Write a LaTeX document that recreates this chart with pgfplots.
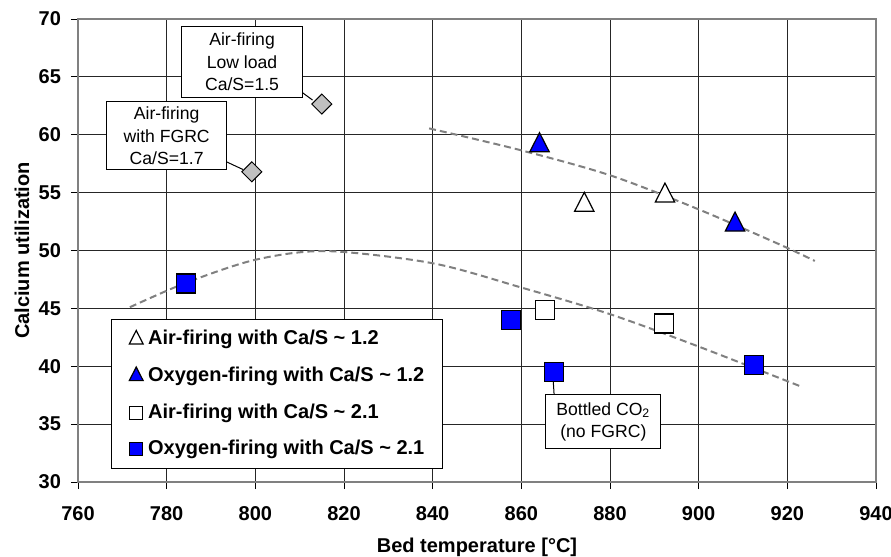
\documentclass[border=0pt]{standalone}
\usepackage{fontspec}
\setmainfont{Liberation Sans}
\usepackage{pgfplots}
\pgfplotsset{compat=1.18}
\definecolor{myblue}{RGB}{0,0,255}
\definecolor{diag}{RGB}{192,192,192}
\definecolor{fitgray}{RGB}{128,128,128}
\pgfplotsset{
  trileg/.style={legend image code/.code={\draw[##1, mark size=4pt] plot coordinates {(0pt,0pt)};}},
  sqleg/.style={legend image code/.code={\draw[##1, mark size=3.25pt] plot coordinates {(0pt,0pt)};}},
}
\begin{document}
\begin{tikzpicture}
\begin{axis}[
  name=ax,
  scale only axis,
  width=399pt, height=231.5pt,
  xmin=760, xmax=940, ymin=30, ymax=70,
  xtick={760,780,...,940}, ytick={30,35,...,70},
  grid=major,
  grid style={black!85, line width=0.5pt},
  axis line style={gray, line width=1pt},
  tick align=outside, major tick length=3.5pt,
  tick style={black, line width=0.5pt},
  xtick pos=bottom, ytick pos=left,
  /pgf/number format/assume math mode=true,
  /pgf/number format/1000 sep={},
  tick label style={font=\fontsize{10}{12}\bfseries\selectfont},
  xticklabel style={yshift=-5.1pt},
  yticklabel style={xshift=-1.5pt},
  xlabel={Bed temperature [°C]}, ylabel={Calcium utilization},
  label style={font=\fontsize{10}{12}\bfseries\selectfont},
  xlabel style={at={(axis description cs:0.5,-0.1404)}, anchor=center},
  ylabel style={at={(axis description cs:-0.0702,0.5)}, anchor=center},
  legend style={at={(axis description cs:0.0411,0.351)}, anchor=north west,
    draw=black, line width=0.5pt, fill=white,
    font=\fontsize{10}{12}\bfseries\selectfont,
    inner xsep=9pt, inner ysep=5pt,
    nodes={inner sep=0pt, text height=7.5pt, text depth=2pt},
    column sep=2.5pt, row sep=8.8pt},
  legend cell align=left,
]
% fitted trend curves
\addplot[fitgray, line width=1pt, dash pattern=on 3.5pt off 2pt, smooth, forget plot, no markers] coordinates {
(771.7,45.1) (784.3,47.2) (800,49.2) (816,49.95) (840,48.9) (860,46.8) (880,44.5) (900,41.7) (923.4,38.2)};
\addplot[fitgray, line width=1pt, dash pattern=on 3.5pt off 2pt, smooth, forget plot, no markers] coordinates {
(839.2,60.55) (859.5,58.7) (880,56.5) (899.7,53.6) (918.1,50.55) (926.2,49.1)};
% annotations
\draw[black, line width=0.5pt] (axis cs:810.4,63.7) -- (axis cs:812.9,63.0);
\draw[black, line width=0.5pt] (axis cs:793.5,57.66) -- (axis cs:797.2,57.0);
\draw[black, line width=0.5pt] (axis cs:867.4,37.5) -- (axis cs:867.2,38.7);
\node[draw=black, fill=white, align=center, font=\fontsize{8.8}{11.2}\selectfont, minimum width=60.8pt, minimum height=35.8pt, inner sep=1pt, line width=0.5pt] at (axis cs:797,66.3) {Air-firing\\Low load\\Ca/S=1.5};
\node[draw=black, fill=white, align=center, font=\fontsize{8.8}{11.2}\selectfont, minimum width=60pt, minimum height=34pt, inner sep=1pt, line width=0.5pt] at (axis cs:780,59.9) {Air-firing\\with FGRC\\Ca/S=1.7};
\node[draw=black, fill=white, align=center, font=\fontsize{8.8}{11.2}\selectfont, minimum width=57.5pt, minimum height=27pt, inner sep=1pt, line width=0.5pt] at (axis cs:878.5,35.2) {Bottled CO\textsubscript{2}\\(no FGRC)};
% diamonds
\addplot[only marks, forget plot, mark=square*, mark size=3.54pt, mark options={rotate=45, fill=diag, draw=black, line width=0.5pt}] coordinates {(815.0,62.65) (799.2,56.8)};
% series
\addplot[only marks, mark=triangle*, mark size=5.6pt, mark options={yscale=1.13, fill=white, draw=black, line width=0.6pt}, trileg]
  coordinates {(874.2,53.93) (892.4,54.73)};
\addlegendentry{Air-firing with Ca/S \textasciitilde{} 1.2}
\addplot[only marks, mark=triangle*, mark size=5.6pt, mark options={yscale=1.13, fill=myblue, draw=black, line width=0.6pt}, trileg]
  coordinates {(864.1,59.08) (908.2,52.23)};
\addlegendentry{Oxygen-firing with Ca/S \textasciitilde{} 1.2}
\addplot[only marks, mark=square*, mark size=4.75pt, mark options={fill=white, draw=black, line width=0.6pt}, sqleg]
  coordinates {(865.4,44.85) (892.1,43.7)};
\addlegendentry{Air-firing with Ca/S \textasciitilde{} 2.1}
\addplot[only marks, mark=square*, mark size=4.75pt, mark options={fill=myblue, draw=black, line width=0.6pt}, sqleg]
  coordinates {(784.3,47.15) (857.7,44.0) (867.3,39.5) (912.4,40.1)};
\addlegendentry{Oxygen-firing with Ca/S \textasciitilde{} 2.1}
\end{axis}
\pgfresetboundingbox
\path[use as bounding box] ([xshift=-39pt,yshift=-37pt]ax.south west) rectangle ([xshift=7.5pt,yshift=9.5pt]ax.north east);
\end{tikzpicture}
\end{document}
